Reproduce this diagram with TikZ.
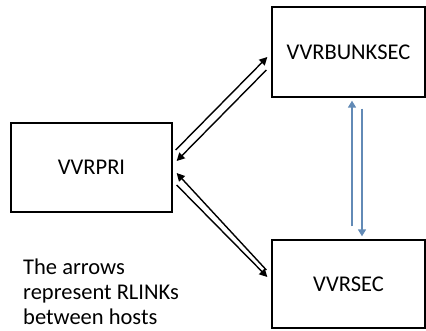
\documentclass[tikz,border=0pt]{standalone}
\usepackage{fontspec}
\setmainfont{Carlito}
\usepackage{tikz}
\usetikzlibrary{arrows.meta}
\definecolor{linkblue}{RGB}{98,138,182}

\begin{document}
\begin{tikzpicture}[x=1pt,y=-1pt,
	host/.style={draw,thick,line width=1.3pt,inner sep=0pt,font=\fontsize{22.5}{25}\selectfont},
	rlink/.style={line width=1.4pt,-{Triangle[length=8pt,width=8pt]}},
	bunklink/.style={line width=1.6pt,color=linkblue,-{Triangle[length=7pt,width=8pt]}}]
\useasboundingbox (0,0) rectangle (426,330);

%hosts
\node[host,minimum width=161pt,minimum height=89pt] (pri) at (91.5,167.5) {VVRPRI};
\node[host,minimum width=153pt,minimum height=90pt] (bunksec) at (348.5,52) {VVRBUNKSEC};
\node[host,minimum width=153pt,minimum height=88pt] (sec) at (348.5,284) {VVRSEC};

%rlinks
\draw[rlink] ([shift={(3,-17.5)}]pri.east) -- ([shift={(-4,5)}]bunksec.west);
\draw[rlink] ([shift={(-5,18)}]bunksec.west) -- ([shift={(4,-6.5)}]pri.east);
\draw[rlink] ([shift={(-5,-14)}]sec.west) -- ([shift={(4,5.5)}]pri.east);
\draw[rlink] ([shift={(4,17.5)}]pri.east) -- ([shift={(-4,-7)}]sec.west);

%bunker link
\draw[bunklink] ([shift={(3.5,-13)}]sec.north) -- ([shift={(3.5,3)}]bunksec.south);
\draw[bunklink] ([shift={(13.5,11)}]bunksec.south) -- ([shift={(13.5,-3)}]sec.north);

%note
\node[anchor=base west,inner sep=0pt,align=left,font=\fontsize{22.5}{25}\selectfont] (note) at (23,324)
	{The arrows\\represent RLINKs\\between hosts};

\end{tikzpicture}
\end{document}
